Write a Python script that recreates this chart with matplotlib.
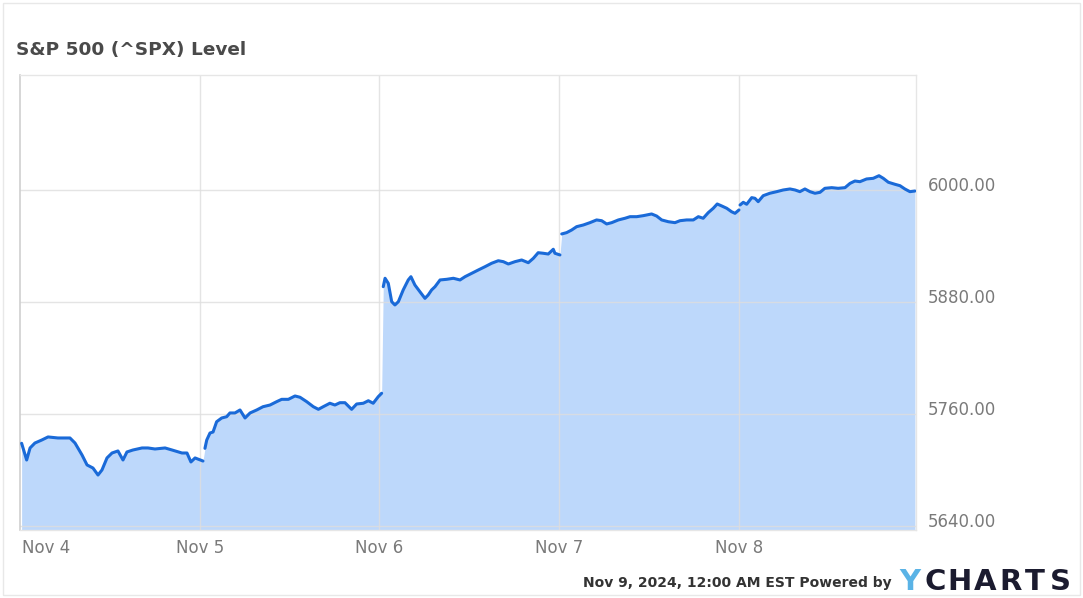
import numpy as np
import matplotlib
matplotlib.use("Agg")
import matplotlib.pyplot as plt
from matplotlib.transforms import blended_transform_factory, ScaledTranslation
from matplotlib.patches import Rectangle

# ---------------- data ----------------
days = ["Nov 4", "Nov 5", "Nov 6", "Nov 7", "Nov 8"]

# intraday position (fraction of each day slot) and S&P 500 level
nov4_t = [0.009, 0.037, 0.056, 0.083, 0.121, 0.156, 0.211, 0.250, 0.278, 0.306,
          0.345, 0.373, 0.406, 0.434, 0.456, 0.484, 0.512, 0.545, 0.573, 0.595,
          0.628, 0.679, 0.712, 0.751, 0.807, 0.846, 0.901, 0.929, 0.951, 0.974, 1.018]
nov4_v = [5728.6, 5710.7, 5723.6, 5728.9, 5732.1, 5735.4, 5734.3, 5734.3, 5734.3, 5728.9,
          5716.1, 5705.4, 5702.1, 5694.6, 5700.0, 5712.9, 5718.2, 5720.4, 5710.7, 5719.3,
          5721.4, 5723.6, 5723.6, 5722.5, 5723.6, 5721.4, 5718.2, 5718.2, 5708.6, 5712.9, 5709.6]

nov5_t = [0.029, 0.039, 0.057, 0.074, 0.094, 0.122, 0.150, 0.168, 0.196, 0.224,
          0.252, 0.280, 0.317, 0.352, 0.391, 0.428, 0.456, 0.493, 0.530, 0.558,
          0.595, 0.632, 0.660, 0.687, 0.724, 0.752, 0.780, 0.808, 0.845, 0.873,
          0.910, 0.938, 0.965, 0.993, 1.012]
nov5_v = [5723.2, 5732.1, 5739.6, 5740.7, 5751.7, 5755.7, 5757.1, 5761.1, 5761.1, 5764.3,
          5755.7, 5761.1, 5764.3, 5767.8, 5769.6, 5773.2, 5775.7, 5775.7, 5779.3, 5777.9,
          5773.2, 5767.8, 5765.0, 5767.8, 5771.5, 5769.6, 5772.1, 5772.1, 5765.0, 5770.7,
          5771.5, 5774.2, 5771.5, 5778.5, 5782.2]

nov6_t = [0.021, 0.031, 0.049, 0.068, 0.086, 0.105, 0.132, 0.160, 0.175, 0.197,
          0.225, 0.253, 0.271, 0.290, 0.309, 0.337, 0.374, 0.411, 0.448, 0.476,
          0.513, 0.550, 0.587, 0.624, 0.661, 0.689, 0.717, 0.754, 0.791, 0.828,
          0.856, 0.883, 0.911, 0.939, 0.967, 0.976, 1.004]
nov6_v = [5896.4, 5905.4, 5900.0, 5880.3, 5876.8, 5880.3, 5892.9, 5903.6, 5907.1, 5898.2,
          5891.0, 5883.9, 5887.5, 5892.9, 5896.4, 5903.6, 5904.3, 5905.4, 5903.6, 5907.1,
          5910.7, 5914.3, 5917.8, 5921.5, 5924.2, 5923.2, 5920.7, 5923.2, 5925.0, 5922.1,
          5926.8, 5932.8, 5932.2, 5931.4, 5936.5, 5932.2, 5930.4]

nov7_t = [0.014, 0.041, 0.069, 0.097, 0.134, 0.171, 0.208, 0.236, 0.264, 0.292,
          0.329, 0.366, 0.394, 0.431, 0.468, 0.514, 0.542, 0.570, 0.607, 0.644,
          0.672, 0.709, 0.746, 0.774, 0.801, 0.829, 0.857, 0.879, 0.904, 0.932,
          0.959, 0.978, 1.000]
nov7_v = [5952.9, 5954.3, 5957.1, 5960.7, 5962.5, 5965.0, 5967.9, 5967.1, 5963.6, 5965.0,
          5967.9, 5969.7, 5971.4, 5971.4, 5972.5, 5974.3, 5972.1, 5967.9, 5966.0, 5965.0,
          5967.1, 5967.9, 5967.9, 5971.4, 5969.7, 5975.7, 5980.4, 5985.0, 5982.9, 5980.4,
          5976.7, 5975.0, 5978.6]

nov8_t = [0.006, 0.024, 0.043, 0.071, 0.089, 0.107, 0.135, 0.172, 0.210, 0.246,
          0.284, 0.312, 0.339, 0.367, 0.395, 0.423, 0.451, 0.478, 0.516, 0.552,
          0.590, 0.618, 0.645, 0.673, 0.710, 0.747, 0.779, 0.803, 0.831, 0.868,
          0.896, 0.923, 0.951, 0.979]
nov8_v = [5983.9, 5986.8, 5984.7, 5991.8, 5991.1, 5987.5, 5993.9, 5996.5, 5998.2, 6000.0,
          6001.1, 6000.0, 5998.2, 6001.1, 5998.2, 5996.5, 5997.5, 6001.8, 6002.5, 6001.8,
          6002.5, 6007.1, 6009.6, 6008.9, 6011.8, 6012.5, 6015.3, 6012.5, 6008.3, 6006.1,
          6004.6, 6001.1, 5998.2, 5998.9]

y_ticks = [5640, 5760, 5880, 6000]

day_t = [nov4_t, nov5_t, nov6_t, nov7_t, nov8_t]
day_v = [nov4_v, nov5_v, nov6_v, nov7_v, nov8_v]

# ---------------- figure ----------------
W, H = 1083, 598
fig = plt.figure(figsize=(W / 100, H / 100), dpi=100)
fig.patch.set_facecolor("white")

L, R, T, B = 20, 916, 75, 530
ax = fig.add_axes([L / W, 1 - B / H, (R - L) / W, (B - T) / H])

line_c = "#1a6ad8"
fill_c = "#bdd8fb"
grid_c = "#dedede"
txt_c = "#7a7a7a"

all_x, all_y = [], []
for i, (ts, vs) in enumerate(zip(day_t, day_v)):
    all_x.extend(i + np.asarray(ts))
    all_y.extend(vs)
all_x = np.array(all_x)
all_y = np.array(all_y)

ymin, ymax = 5635.7, 6123.2
ax.fill_between(all_x, all_y, ymin, color=fill_c, lw=0, zorder=1)
for i, (ts, vs) in enumerate(zip(day_t, day_v)):
    ax.plot(i + np.asarray(ts), vs, color=line_c, lw=2.2, solid_joinstyle="round",
            solid_capstyle="round", zorder=4)

ax.set_xlim(0, 4.985)
ax.set_ylim(ymin, ymax)

# grid
for yv in y_ticks:
    ax.axhline(yv, color=grid_c, lw=1.0, zorder=2, alpha=0.8)
for i in range(1, len(days)):
    ax.axvline(i, color=grid_c, lw=1.0, zorder=2, alpha=0.8)

ax.set_xticks([])
ax.set_yticks([])
ax.spines["left"].set_color("#cfcfcf")
ax.spines["left"].set_linewidth(1.2)
for s in ["top", "right", "bottom"]:
    ax.spines[s].set_color("#e6e6e6")
    ax.spines[s].set_linewidth(1.0)

# y labels (right side, slightly above gridline)
ytr = blended_transform_factory(ax.transAxes, ax.transData) + ScaledTranslation(12 / 100, 4 / 100, fig.dpi_scale_trans)
for yv in y_ticks:
    ax.text(1.0, yv, f"{yv:.2f}", transform=ytr, ha="left", va="center",
            fontsize=12, color=txt_c, family="DejaVu Sans")

# x labels
xtr = blended_transform_factory(ax.transData, ax.transAxes) + ScaledTranslation(0, -18 / 100, fig.dpi_scale_trans)
for i, d in enumerate(days):
    if i == 0:
        ax.text(i, 0, d, transform=xtr + ScaledTranslation(2 / 100, 0, fig.dpi_scale_trans),
                ha="left", va="center", fontsize=12, color=txt_c)
    else:
        ax.text(i, 0, d, transform=xtr, ha="center", va="center", fontsize=12, color=txt_c)

# title
fig.text(16 / W, 1 - 50 / H, "S&P 500 (^SPX) Level", ha="left", va="center",
         fontsize=13.3, fontweight="bold", color="#4a4a4a")

# footer
fig.text(583 / W, 1 - 583 / H, "Nov 9, 2024, 12:00 AM EST Powered by", ha="left", va="center",
         fontsize=10, fontweight="bold", color="#333333")
logo = "YCHARTS"
lx0, lx1 = 897, 1073
step = (lx1 - lx0) / len(logo)
for k, ch in enumerate(logo):
    fig.text((lx0 + step * (k + 0.5)) / W, 1 - 582 / H, ch, ha="center", va="center",
             fontsize=21, fontweight="bold",
             color="#5ab3e6" if k == 0 else "#1b1b2f")

# outer frame
fig.patches.append(Rectangle((3 / W, 3 / H), (W - 6) / W, (H - 6) / H, transform=fig.transFigure,
                             fill=False, edgecolor="#e8e8e8", lw=1.0))

fig.savefig("out.png", dpi=100, facecolor="white")
